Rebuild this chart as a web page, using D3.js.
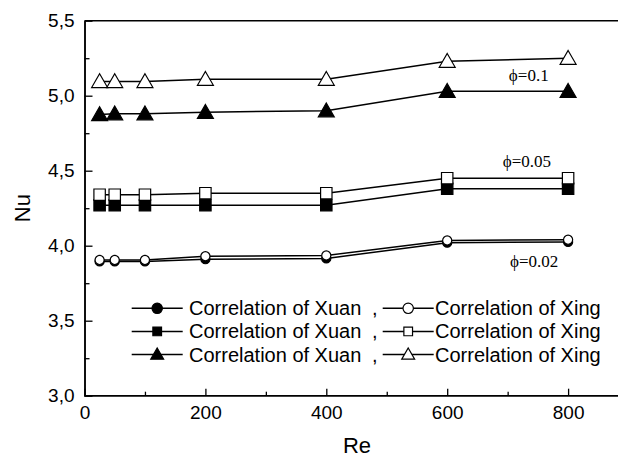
<!DOCTYPE html>
<html>
<head>
<meta charset="utf-8">
<script src="https://cdn.jsdelivr.net/npm/d3@7"></script>
<style>
  html, body { margin: 0; padding: 0; background: #fff; }
  svg { display: block; }
</style>
</head>
<body>
<svg id="chart" width="618" height="458"></svg>
<script>
// data
const re = [25, 50, 100, 200, 400, 600, 800]
const xuan002 = [3.895, 3.895, 3.895, 3.91, 3.915, 4.02, 4.025]
const xing002 = [3.905, 3.905, 3.905, 3.93, 3.935, 4.035, 4.04]
const xuan005 = [4.27, 4.27, 4.27, 4.27, 4.27, 4.38, 4.38]
const xing005 = [4.34, 4.34, 4.34, 4.35, 4.35, 4.45, 4.45]
const xuan01 = [4.875, 4.88, 4.88, 4.89, 4.9, 5.03, 5.03]
const xing01 = [5.095, 5.095, 5.095, 5.11, 5.11, 5.23, 5.25]
const xMajor = [0, 200, 400, 600, 800]
const xMinor = [100, 300, 500, 700]
const yMajor = [3.0, 3.5, 4.0, 4.5, 5.0, 5.5]
const yMinor = [3.25, 3.75, 4.25, 4.75, 5.25]
const phiLabels = [
  { text: 'ϕ=0.1', re: 702, nu: 5.10 },
  { text: 'ϕ=0.05', re: 692, nu: 4.527 },
  { text: 'ϕ=0.02', re: 704, nu: 3.856 }
]
const legendShapes = ['circle', 'square', 'triangle']

const margin = { left: 84.5, top: 20.7, bottom: 62.3 }
const svg = d3.select('#chart')
const H = +svg.attr('height')

const x = d3.scaleLinear().domain([0, 900]).range([margin.left, margin.left + 900 * 0.6045])
const y = d3.scaleLinear().domain([3, 5.5]).range([H - margin.bottom, margin.top])

const fmt = d => d3.format('.1f')(d).replace('.', ',')
const sans = 'Arial, "Liberation Sans", Helvetica, sans-serif'

// frame top
svg.append('line')
  .attr('x1', x(0)).attr('x2', x(900))
  .attr('y1', y(5.5)).attr('y2', y(5.5))
  .attr('stroke', '#000').attr('stroke-width', 1.5)

// axes
const gx = svg.append('g').attr('transform', `translate(0,${y(3)})`)
gx.call(d3.axisBottom(x).tickValues(xMajor).tickSizeInner(-7).tickSizeOuter(0).tickPadding(10))
gx.call(g => g.append('g').call(d3.axisBottom(x).tickValues(xMinor).tickSizeInner(-4).tickSizeOuter(0).tickFormat('')))
gx.selectAll('.domain').attr('d', `M${x(0)},0H${x(900)}`)

const gy = svg.append('g').attr('transform', `translate(${x(0)},0)`)
gy.call(d3.axisLeft(y).tickValues(yMajor).tickFormat(fmt).tickSizeInner(-8).tickSizeOuter(0).tickPadding(10))
gy.call(g => g.append('g').call(d3.axisLeft(y).tickValues(yMinor).tickSizeInner(-5).tickSizeOuter(0).tickFormat('')))

svg.selectAll('.domain').attr('stroke-width', 1.5)
svg.selectAll('.tick line').attr('stroke-width', 1.3)
svg.selectAll('.tick text').attr('font-family', sans).attr('font-size', 19).attr('fill', '#000')

// axis titles
svg.append('text')
  .attr('x', 357).attr('y', 453)
  .attr('text-anchor', 'middle')
  .attr('font-family', sans).attr('font-size', 22)
  .text('Re')
svg.append('text')
  .attr('transform', `translate(30,${(y(3) + y(5.5)) / 2}) rotate(-90)`)
  .attr('text-anchor', 'middle')
  .attr('font-family', sans).attr('font-size', 22)
  .text('Nu')

// series
const series = [
  { vals: xuan002, shape: 'circle', fill: '#000' },
  { vals: xing002, shape: 'circle', fill: '#fff' },
  { vals: xuan005, shape: 'square', fill: '#000' },
  { vals: xing005, shape: 'square', fill: '#fff' },
  { vals: xuan01, shape: 'triangle', fill: '#000' },
  { vals: xing01, shape: 'triangle', fill: '#fff' }
]
const symType = { circle: d3.symbolCircle, square: d3.symbolSquare, triangle: d3.symbolTriangle }
const symSize = { circle: 65, square: 130, triangle: 110 }
const legSize = { circle: 85, square: 75, triangle: 72 }

const line = d3.line().x(d => x(d[0])).y(d => y(d[1]))
series.forEach(s => {
  const pts = re.map((r, i) => [r, s.vals[i]])
  svg.append('path')
    .attr('d', line(pts))
    .attr('fill', 'none').attr('stroke', '#000').attr('stroke-width', 1.5)
  svg.selectAll(null).data(pts).join('path')
    .attr('transform', d => `translate(${x(d[0])},${y(d[1]) + (s.shape === 'triangle' ? 1.5 : 0)})`)
    .attr('d', d3.symbol(symType[s.shape], symSize[s.shape]))
    .attr('fill', s.fill).attr('stroke', '#000').attr('stroke-width', 1.2)
})

// phi annotations
svg.selectAll('.phi').data(phiLabels).join('text')
  .attr('class', 'phi')
  .attr('x', d => x(d.re)).attr('y', d => y(d.nu))
  .attr('font-family', '"Liberation Serif", "Times New Roman", serif')
  .attr('font-size', 17)
  .text(d => d.text)

// legend
const lg = svg.append('g').attr('font-family', sans).attr('font-size', 20)
legendShapes.forEach((shape, i) => {
  const ly = 308.3 + i * 23.1
  ;[{ x0: 131.7, fill: '#000' }, { x0: 382.7, fill: '#fff' }].forEach(c => {
    lg.append('line')
      .attr('x1', c.x0).attr('x2', c.x0 + 51)
      .attr('y1', ly).attr('y2', ly)
      .attr('stroke', '#000').attr('stroke-width', 1.5)
    lg.append('path')
      .attr('transform', `translate(${c.x0 + 25.5},${ly + (shape === 'triangle' ? 1 : 0)})`)
      .attr('d', d3.symbol(symType[shape], legSize[shape]))
      .attr('fill', c.fill).attr('stroke', '#000').attr('stroke-width', 1.2)
  })
  lg.append('text').attr('x', 189).attr('y', ly).attr('dy', '0.35em').text('Correlation of Xuan')
  lg.append('text').attr('x', 372).attr('y', ly).attr('dy', '0.35em').text(',')
  lg.append('text').attr('x', 435).attr('y', ly).attr('dy', '0.35em').text('Correlation of Xing')
})
</script>
</body>
</html>
